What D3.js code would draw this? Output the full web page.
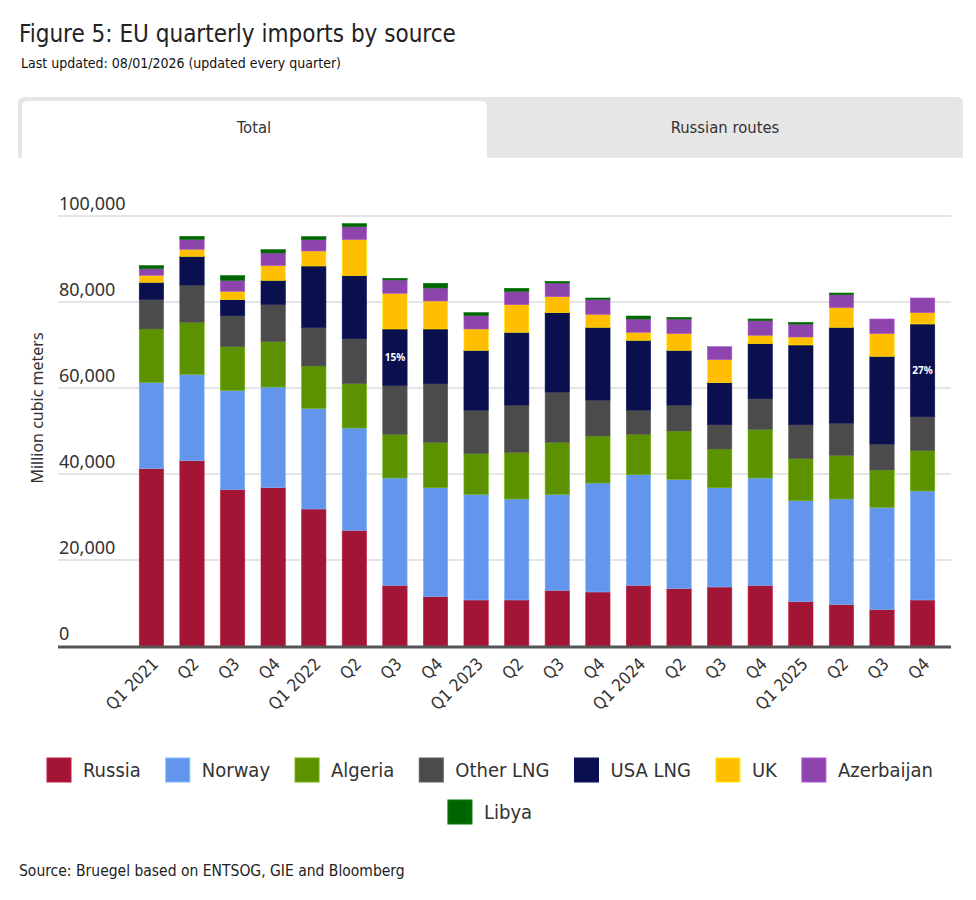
<!DOCTYPE html>
<html lang="en">
<head>
  <meta charset="UTF-8">
  <title>EU quarterly imports by source</title>
  <script src="https://d3js.org/d3.v7.min.js"></script>
  <style>
    body { margin: 0; background: #fff; }
    .cond { font-family: "Liberation Sans Narrow", "DejaVu Sans Condensed", sans-serif; }
    .tick-label { font-family: "Noto Sans", sans-serif; font-size: 18px; fill: #333; }
    .grid { stroke: #dddddd; stroke-width: 1.5px; }
  </style>
</head>
<body>
  <svg id="chart" width="976" height="900"></svg>

  <script>
    // quarters on the x axis
    const quarters = ["Q1 2021", "Q2", "Q3", "Q4", "Q1 2022", "Q2", "Q3", "Q4", "Q1 2023", "Q2",
                      "Q3", "Q4", "Q1 2024", "Q2", "Q3", "Q4", "Q1 2025", "Q2", "Q3", "Q4"];

    // million cubic meters per source (bottom to top)
    const russia     = [41240, 43100, 36360, 36820, 31860, 26900, 14110, 11470, 10700, 10700, 12950, 12560, 14110, 13330, 13720, 14110, 10310, 9610, 8450, 10700];
    const norway     = [20080, 20080, 23100, 23410, 23410, 23800, 24960, 25350, 24570, 23490, 22320, 25350, 25740, 25430, 23100, 24960, 23490, 24580, 23800, 25350];
    const algeria    = [12400, 12090, 10150, 10550, 9850, 10310, 10160, 10550, 9460, 10850, 12100, 10930, 9380, 11240, 8990, 11320, 9770, 10150, 8680, 9380];
    const otherLng   = [6900, 8690, 7210, 8680, 8990, 10460, 11390, 13640, 10150, 11010, 11700, 8370, 5650, 6050, 5660, 7130, 7900, 7520, 6050, 7910];
    const usaLng     = [3960, 6660, 3720, 5580, 14260, 14660, 13100, 12710, 13880, 16900, 18450, 16900, 16210, 12710, 9770, 12790, 18530, 22250, 20390, 21540];
    const uk         = [1630, 1630, 1940, 3410, 3490, 8370, 8300, 6510, 4960, 6430, 3720, 3020, 1860, 3880, 5350, 1940, 1860, 4570, 5270, 2640];
    const azerbaijan = [1550, 2320, 2560, 2950, 2640, 3020, 3100, 3030, 3100, 3100, 3180, 3490, 3100, 3410, 3020, 3410, 3020, 3020, 3410, 3410];
    const libya      = [700, 700, 1090, 770, 700, 700, 380, 1080, 700, 700, 390, 310, 690, 390, 0, 390, 390, 390, 0, 0];

    const sources = ["Russia", "Norway", "Algeria", "Other LNG", "USA LNG", "UK", "Azerbaijan", "Libya"];
    const colors  = ["#a21535", "#6495ed", "#5c9100", "#4b4b4b", "#0a0f4d", "#ffbf00", "#8e44ad", "#006400"];
    const yTicks  = [0, 20000, 40000, 60000, 80000, 100000];

    // quarters that get a USA LNG share label
    const shareLabels = [6, 19];

    const series = [russia, norway, algeria, otherLng, usaLng, uk, azerbaijan, libya];
    const rows = quarters.map((q, i) => {
      const r = { i: i, q: q };
      sources.forEach((s, k) => r[s] = series[k][i]);
      return r;
    });

    const svg = d3.select("#chart");

    // title block
    svg.append("text").attr("class", "cond")
      .attr("x", 19).attr("y", 42)
      .attr("font-size", 24).attr("fill", "#222")
      .text("Figure 5: EU quarterly imports by source");
    svg.append("text").attr("class", "cond")
      .attr("x", 21).attr("y", 68)
      .attr("font-size", 14).attr("fill", "#111")
      .text("Last updated: 08/01/2026 (updated every quarter)");

    // tabs
    svg.append("path")
      .attr("d", "M18,158 V103 Q18,97 24,97 H957 Q963,97 963,103 V158 Z")
      .attr("fill", "#e6e6e6");
    svg.append("path")
      .attr("d", "M22,160 V107 Q22,101 28,101 H481 Q487,101 487,107 V160 Z")
      .attr("fill", "#fff");
    svg.append("text").attr("class", "cond")
      .attr("x", 254).attr("y", 133).attr("text-anchor", "middle")
      .attr("font-size", 16.5).attr("fill", "#333").text("Total");
    svg.append("text").attr("class", "cond")
      .attr("x", 725).attr("y", 133).attr("text-anchor", "middle")
      .attr("font-size", 16.5).attr("fill", "#333").text("Russian routes");

    // scales
    const y = d3.scaleLinear().domain([0, 100000]).range([646, 216]);
    const x = d3.scaleBand().domain(d3.range(quarters.length)).range([123, 951]).padding(0.4);

    // grid + tick labels
    svg.selectAll(".grid")
      .data(yTicks.filter(d => d > 0))
      .enter().append("line")
      .attr("class", "grid")
      .attr("x1", 58).attr("x2", 951)
      .attr("y1", d => y(d)).attr("y2", d => y(d));

    svg.selectAll(".tick-label")
      .data(yTicks)
      .enter().append("text")
      .attr("class", "tick-label")
      .attr("x", 59).attr("y", d => y(d) - 6)
      .text(d => d3.format(",")(d));

    svg.append("text")
      .attr("font-family", "Noto Sans, sans-serif").attr("font-size", 16).attr("fill", "#333")
      .attr("text-anchor", "middle")
      .attr("transform", "translate(43,408) rotate(-90)")
      .text("Million cubic meters");

    // stacked bars
    const stacked = d3.stack().keys(sources)(rows);

    svg.append("g").selectAll("g")
      .data(stacked)
      .enter().append("g")
      .attr("fill", (d, k) => colors[k])
      .attr("stroke", (d, k) => d3.color(colors[k]).brighter(0.6))
      .attr("stroke-width", 0.6)
      .selectAll("rect")
      .data(d => d.filter(p => p[1] - p[0] > 0))
      .enter().append("rect")
      .attr("x", d => x(d.data.i))
      .attr("width", x.bandwidth())
      .attr("y", d => y(d[1]))
      .attr("height", d => y(d[0]) - y(d[1]));

    // USA LNG share labels
    const usaLayer = stacked[sources.indexOf("USA LNG")];
    svg.selectAll(".share")
      .data(shareLabels)
      .enter().append("text")
      .attr("class", "share")
      .attr("x", i => x(i) + x.bandwidth() / 2)
      .attr("y", i => y((usaLayer[i][0] + usaLayer[i][1]) / 2))
      .attr("dy", "0.35em")
      .attr("text-anchor", "middle")
      .attr("font-family", "Noto Sans, sans-serif").attr("font-size", 10).attr("font-weight", 700)
      .attr("fill", "#fff")
      .text(i => {
        const total = d3.sum(series, s => s[i]);
        return Math.round(usaLng[i] / total * 100) + "%";
      });

    // baseline
    svg.append("line")
      .attr("x1", 58).attr("x2", 951)
      .attr("y1", y(0) + 1).attr("y2", y(0) + 1)
      .attr("stroke", "#555").attr("stroke-width", 3);

    // x labels
    svg.selectAll(".xlab")
      .data(quarters)
      .enter().append("text")
      .attr("class", "xlab cond")
      .attr("font-size", 17).attr("fill", "#333")
      .attr("text-anchor", "end")
      .attr("transform", (d, i) => `translate(${x(i) + x.bandwidth() / 2 + 8},${y(0) + 19}) rotate(-45)`)
      .text(d => d);

    // legend, centred rows
    const legend = svg.append("g").attr("class", "cond");
    const items = sources.map((s, k) => {
      const g = legend.append("g");
      g.append("rect").attr("width", 24).attr("height", 24)
        .attr("fill", colors[k]).attr("stroke", d3.color(colors[k]).brighter(0.6)).attr("stroke-width", 1);
      const t = g.append("text").attr("x", 36).attr("y", 12).attr("dy", "0.35em")
        .attr("font-size", 20).attr("fill", "#333").text(s);
      return { g: g, w: 36 + t.node().getComputedTextLength() };
    });
    const gap = 25, maxW = 900, cx = 490;
    const lines = [[]];
    let lineW = 0;
    items.forEach(it => {
      const add = (lines[lines.length - 1].length ? gap : 0) + it.w;
      if (lineW + add > maxW) { lines.push([]); lineW = 0; }
      lineW += (lines[lines.length - 1].length ? gap : 0) + it.w;
      lines[lines.length - 1].push(it);
    });
    lines.forEach((ln, r) => {
      const total = d3.sum(ln, d => d.w) + gap * (ln.length - 1);
      let xx = cx - total / 2;
      ln.forEach(it => {
        it.g.attr("transform", `translate(${xx},${758 + r * 42})`);
        xx += it.w + gap;
      });
    });

    // source note
    svg.append("text").attr("class", "cond")
      .attr("x", 19).attr("y", 876)
      .attr("font-size", 15.5).attr("fill", "#222")
      .text("Source: Bruegel based on ENTSOG, GIE and Bloomberg");
  </script>
</body>
</html>
